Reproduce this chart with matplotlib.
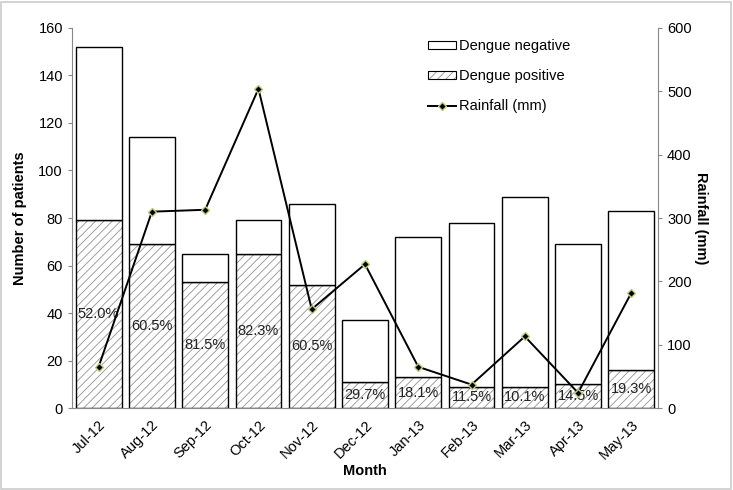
import matplotlib
matplotlib.use("Agg")
import matplotlib.pyplot as plt
import numpy as np
from matplotlib.patches import Rectangle
from matplotlib.lines import Line2D
from matplotlib.legend_handler import HandlerTuple

plt.rcParams['font.family'] = ['Liberation Sans', 'DejaVu Sans']
plt.rcParams['hatch.linewidth'] = 0.6

months = ["Jul-12", "Aug-12", "Sep-12", "Oct-12", "Nov-12", "Dec-12",
          "Jan-13", "Feb-13", "Mar-13", "Apr-13", "May-13"]
total_patients = [152, 114, 65, 79, 86, 37, 72, 78, 89, 69, 83]
dengue_positive = [79, 69, 53, 65, 52, 11, 13, 9, 9, 10, 16]
pct_labels = ["52.0%", "60.5%", "81.5%", "82.3%", "60.5%", "29.7%",
              "18.1%", "11.5%", "10.1%", "14.5%", "19.3%"]
rainfall = [65, 310, 313, 504, 156, 227, 65, 37, 113, 24, 182]

fs = 10.5
hcol = '#929292'
fig = plt.figure(figsize=(7.33, 4.9), dpi=100)
ax = fig.add_axes([0.0982, 0.1673, 0.7995, 0.7756])
x = np.arange(len(months))
w = 0.86

neg = [t - p for t, p in zip(total_patients, dengue_positive)]
ax.bar(x, dengue_positive, w, color='white', edgecolor=hcol, linewidth=0,
       hatch='////', zorder=2)
ax.bar(x, dengue_positive, w, fill=False, edgecolor='black', linewidth=1.0, zorder=3)
ax.bar(x, neg, w, bottom=dengue_positive, color='white', edgecolor='black',
       linewidth=1.0, zorder=3)

for xi, p, lab in zip(x, dengue_positive, pct_labels):
    ax.text(xi, p / 2, lab, ha='center', va='center', fontsize=fs, color='#222222', zorder=4)

ax.set_xlim(-0.5, len(months) - 0.5)
ax.set_ylim(0, 160)
ax.set_yticks(range(0, 161, 20))
ax.set_xticks(x)
ax.set_xticklabels(months, rotation=45, ha='right', rotation_mode='anchor', fontsize=fs)
ax.tick_params(axis='y', labelsize=fs, length=3, color='#888888')
ax.tick_params(axis='x', length=0, pad=7)
ax.set_ylabel("Number of patients", fontsize=10.5, fontweight='bold', labelpad=8)
ax.set_xlabel("Month", fontsize=10.5, fontweight='bold', labelpad=1)
ax.spines['top'].set_visible(False)
ax.spines['right'].set_visible(False)
for s in ['left', 'bottom']:
    ax.spines[s].set_color('#888888')

ax2 = ax.twinx()
ax2.plot(x, rainfall, color='black', linewidth=1.4, zorder=5,
         marker='D', markersize=4, markerfacecolor='black',
         markeredgecolor='#b9cf7a', markeredgewidth=1.0)
ax2.set_ylim(0, 600)
ax2.set_yticks(range(0, 601, 100))
ax2.tick_params(axis='y', labelsize=fs, length=3, color='#888888')
ax2.set_ylabel("Rainfall (mm)", fontsize=10.5, fontweight='bold', rotation=270, labelpad=12)
ax2.spines['top'].set_visible(False)
ax2.spines['left'].set_visible(False)
ax2.spines['bottom'].set_visible(False)
ax2.spines['right'].set_color('#888888')

h_neg = Rectangle((0, 0), 1, 1, facecolor='white', edgecolor='black', linewidth=0.8)
h_pos = (Rectangle((0, 0), 1, 1, facecolor='white', edgecolor=hcol, linewidth=0, hatch='////'),
         Rectangle((0, 0), 1, 1, fill=False, edgecolor='black', linewidth=0.8))
h_rain = Line2D([0], [0], color='black', linewidth=1.4, marker='D', markersize=4,
                markerfacecolor='black', markeredgecolor='#b9cf7a')
ax2.legend([h_neg, h_pos, h_rain], ["Dengue negative", "Dengue positive", "Rainfall (mm)"],
           loc='upper left', bbox_to_anchor=(0.585, 1.005), frameon=False, fontsize=fs,
           handlelength=1.9, handleheight=0.5, labelspacing=1.1, handletextpad=0.25,
           handler_map={tuple: HandlerTuple(ndivide=1, pad=0)})

fig.patches.append(Rectangle((0.002, 0.003), 0.995, 0.993, transform=fig.transFigure,
                             fill=False, edgecolor='#cccccc', linewidth=1.2))
fig.savefig("out.png", dpi=100)
